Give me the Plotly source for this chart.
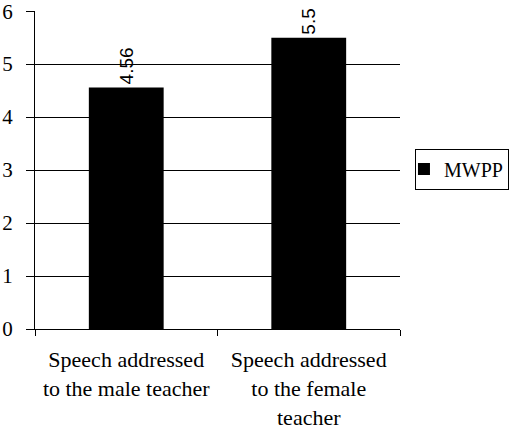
import plotly.graph_objects as go

categories = ["Speech addressed<br>to the male teacher", "Speech addressed<br>to the female<br>teacher"]
values = [4.56, 5.5]
value_labels = ["4.56", "5.5"]
series_name = "MWPP"
y_ticks = [0, 1, 2, 3, 4, 5, 6]

serif = "Liberation Serif, Times New Roman, Times, serif"
sans = "Liberation Sans, Arial, sans-serif"

fig = go.Figure()
fig.add_trace(go.Bar(
    x=categories, y=values, name=series_name,
    text=value_labels, textposition="outside", textangle=-90,
    textfont=dict(family=sans, size=19, color="black"),
    marker=dict(color="black", line=dict(color="black", width=0)),
    cliponaxis=False,
))

fig.update_layout(
    width=511, height=434,
    margin=dict(l=35, r=111, t=11, b=105, autoexpand=False),
    paper_bgcolor="white", plot_bgcolor="white",
    bargap=0.59,
    showlegend=True,
    legend=dict(x=1.041, y=0.503, xanchor="left", yanchor="middle",
                bordercolor="black", borderwidth=1,
                font=dict(family=serif, size=20, color="black"),
                itemwidth=30, indentation=-12),
    font=dict(family=serif, color="black"),
)
fig.update_xaxes(
    showline=True, linecolor="black", linewidth=1,
    ticks="outside", tickson="boundaries", ticklen=6, tickcolor="black",
    tickfont=dict(family=serif, size=22, color="black"),
    ticklabelstandoff=11, ticklabeloverflow="allow",
    showgrid=False,
)
fig.update_yaxes(
    range=[0, 6.003], tickvals=y_ticks, ticktext=[str(t) for t in y_ticks],
    showline=True, linecolor="black", linewidth=1,
    ticks="outside", ticklen=8, tickcolor="black",
    tickfont=dict(family=serif, size=21, color="black"),
    ticklabelstandoff=9, ticklabeloverflow="allow",
    showgrid=True, gridcolor="black", gridwidth=1,
    zeroline=False,
)

fig.write_html(
    "out.html",
    config={"displayModeBar": False},
    post_script="document.body.style.margin='0';document.body.style.overflow='hidden';",
)
